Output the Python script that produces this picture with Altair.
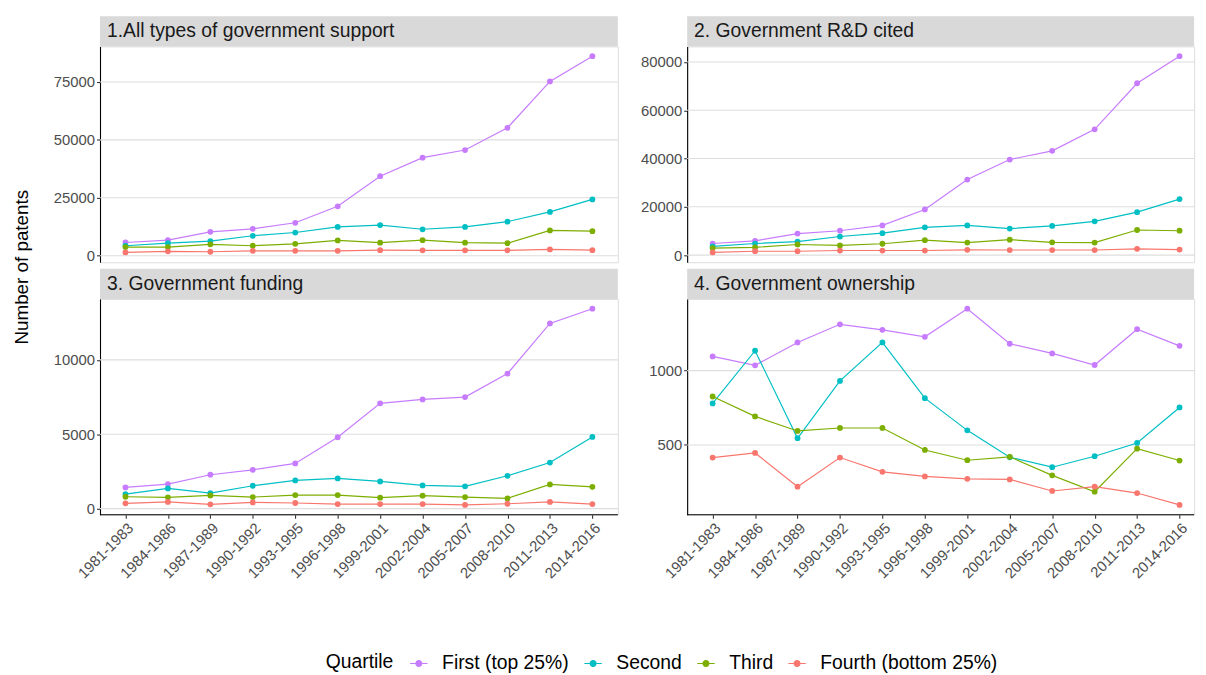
import altair as alt
import pandas as pd

# ---- data -------------------------------------------------------------
periods = ["1981-1983", "1984-1986", "1987-1989", "1990-1992", "1993-1995",
           "1996-1998", "1999-2001", "2002-2004", "2005-2007", "2008-2010",
           "2011-2013", "2014-2016"]

quartiles = ["First (top 25%)", "Second", "Third", "Fourth (bottom 25%)"]
quartile_colors = ["#C77CFF", "#00BFC4", "#7CAE00", "#F8766D"]

panel_titles = ["1.All types of government support", "2. Government R&D cited",
                "3. Government funding", "4. Government ownership"]

# 1. All types of government support
all_first = [5700, 6700, 10300, 11600, 14200, 21300, 34300, 42300, 45600, 55200, 75200, 86100]
all_second = [4300, 5400, 6300, 8600, 10000, 12400, 13200, 11400, 12400, 14700, 18900, 24300]
all_third = [3700, 3700, 4900, 4300, 5100, 6600, 5600, 6700, 5600, 5400, 10900, 10600]
all_fourth = [1400, 1900, 1700, 2100, 2100, 2100, 2400, 2300, 2300, 2300, 2700, 2400]

# 2. Government R&D cited
rd_first = [4800, 5900, 8900, 10100, 12300, 18900, 31300, 39600, 43200, 52100, 71200, 82400]
rd_second = [3600, 4800, 5600, 7700, 9100, 11500, 12300, 11000, 12100, 14000, 17800, 23200]
rd_third = [2900, 3200, 4400, 4000, 4700, 6200, 5200, 6400, 5300, 5200, 10400, 10100]
rd_fourth = [1100, 1600, 1600, 1900, 1900, 1900, 2200, 2100, 2100, 2100, 2600, 2300]

# 3. Government funding
fund_first = [1430, 1650, 2280, 2610, 3040, 4800, 7080, 7340, 7500, 9080, 12450, 13440]
fund_second = [980, 1360, 1050, 1540, 1900, 2030, 1830, 1560, 1500, 2210, 3100, 4820]
fund_third = [800, 760, 890, 780, 915, 915, 740, 870, 780, 690, 1630, 1470]
fund_fourth = [360, 450, 290, 420, 380, 310, 310, 310, 250, 330, 450, 310]

# 4. Government ownership
own_first = [1096, 1036, 1190, 1312, 1275, 1228, 1417, 1181, 1116, 1038, 1279, 1167]
own_second = [779, 1134, 545, 931, 1190, 815, 598, 417, 350, 424, 513, 752]
own_third = [826, 692, 594, 614, 614, 466, 397, 420, 295, 185, 475, 395]
own_fourth = [415, 446, 219, 415, 319, 288, 272, 268, 190, 219, 176, 96]

# y-axis tick labels per panel
ticks_all = [0, 25000, 50000, 75000]
ticks_rd = [0, 20000, 40000, 60000, 80000]
ticks_fund = [0, 5000, 10000]
ticks_own = [500, 1000]

y_title = "Number of patents"

# ---- layout -----------------------------------------------------------
FONT = "Liberation Sans"
W = 523          # full panel width (x scale range)
W_RIGHT = 512    # drawn width of the right-hand column
H = 218
STRIP = 30.5
KEY = 22         # legend key size

# line-with-dot legend key
key_path = ("M-0.8,0L0.8,0M-0.27,0A0.27,0.27 0 1,0 0.27,0"
            "A0.27,0.27 0 1,0 -0.27,0Z")

legend = alt.Legend(
    orient="none", legendX=228, legendY=611, direction="horizontal",
    title="Quartile", titleOrient="left", titleFontSize=19.5,
    titleFontWeight="normal", titleFont=FONT, titleColor="black",
    titlePadding=13, labelFontSize=19.5, labelFont=FONT, labelColor="black",
    labelOffset=11.5, labelLimit=400, columnPadding=12,
    symbolType=key_path, symbolSize=KEY * KEY, symbolStrokeWidth=1.2,
    symbolOpacity=1,
)

color = alt.Color("quartile:N", sort=quartiles, legend=legend,
                  scale=alt.Scale(domain=quartiles, range=quartile_colors))


def panel(title, series, ticks, bottom, visible_w, first=False):
    rows = []
    for q, vals in zip(quartiles, series):
        for p, v in zip(periods, vals):
            rows.append({"period": p, "quartile": q, "value": v})
    df = pd.DataFrame(rows)
    lo, hi = df["value"].min(), df["value"].max()
    ext = 0.05 * (hi - lo)
    yscale = alt.Scale(domain=[lo - ext, hi + ext], nice=False, zero=False)
    xscale = alt.Scale(type="point", domain=periods, range=[0, W], padding=0.6)

    y_axis = alt.Axis(title=None, values=ticks, format="d", grid=False,
                      domainColor="black", domainWidth=1.1, tickColor="#333333",
                      tickSize=3.5, tickWidth=1.1, labelFontSize=15,
                      labelColor="#4D4D4D", labelPadding=2, labelFont=FONT)
    if bottom:
        x_axis = alt.Axis(title=None, labelAngle=-45, labelAlign="right",
                          labelBaseline="top", domain=False, tickSize=3.5,
                          tickWidth=1.1, tickColor="#333333", labelFontSize=15,
                          labelColor="#4D4D4D", labelPadding=2, labelFont=FONT,
                          labelOverlap=False)
    else:
        x_axis = None

    x = alt.X("period:O", scale=xscale, axis=x_axis, sort=periods)
    y = alt.Y("value:Q", scale=yscale, axis=y_axis)

    grid = alt.Chart(pd.DataFrame({"value": ticks})).mark_rule(
        color="#DEDEDE", strokeWidth=1.1
    ).encode(y=y, x=alt.value(0), x2=alt.value(visible_w))

    lines = alt.Chart(df).mark_line(strokeWidth=1.2).encode(x=x, y=y, color=color)
    points = alt.Chart(df).mark_circle(size=34, opacity=1).encode(x=x, y=y, color=color)

    lab = pd.DataFrame({"t": [title]})
    strip = alt.Chart(lab).mark_rect(color="#D9D9D9").encode(
        x=alt.value(0), x2=alt.value(visible_w),
        y=alt.value(-STRIP), y2=alt.value(0))
    strip_text = alt.Chart(lab).mark_text(
        align="left", baseline="middle", fontSize=19.5, color="#1A1A1A", font=FONT
    ).encode(x=alt.value(7), y=alt.value(-STRIP / 2), text="t:N")

    layers = [grid, lines, points, strip, strip_text]
    if bottom:
        layers.append(
            alt.Chart(lab).mark_rule(color="black", strokeWidth=1.1).encode(
                x=alt.value(0), x2=alt.value(visible_w), y=alt.value(H)))
    if first:
        layers.append(
            alt.Chart(pd.DataFrame({"t": [y_title]})).mark_text(
                angle=270, fontSize=19, color="black", font=FONT,
                align="center", baseline="middle"
            ).encode(x=alt.value(-79), y=alt.value(223), text="t:N"))
    return alt.layer(*layers).properties(width=visible_w, height=H)


p1 = panel(panel_titles[0], [all_first, all_second, all_third, all_fourth],
           ticks_all, False, W, first=True)
p2 = panel(panel_titles[1], [rd_first, rd_second, rd_third, rd_fourth],
           ticks_rd, False, W_RIGHT)
p3 = panel(panel_titles[2], [fund_first, fund_second, fund_third, fund_fourth],
           ticks_fund, True, W)
p4 = panel(panel_titles[3], [own_first, own_second, own_third, own_fourth],
           ticks_own, True, W_RIGHT)

chart = (
    alt.concat(p1, p2, p3, p4, columns=2, spacing={"row": 37, "column": 70},
               bounds="flush")
    .resolve_scale(color="shared")
    .properties(padding={"left": 12, "top": 12.5, "right": 0, "bottom": 0},
                background="white")
    .configure_view(stroke="transparent")
    .configure(font=FONT)
)

chart.save("out.html", embed_options={"renderer": "svg", "actions": False})
